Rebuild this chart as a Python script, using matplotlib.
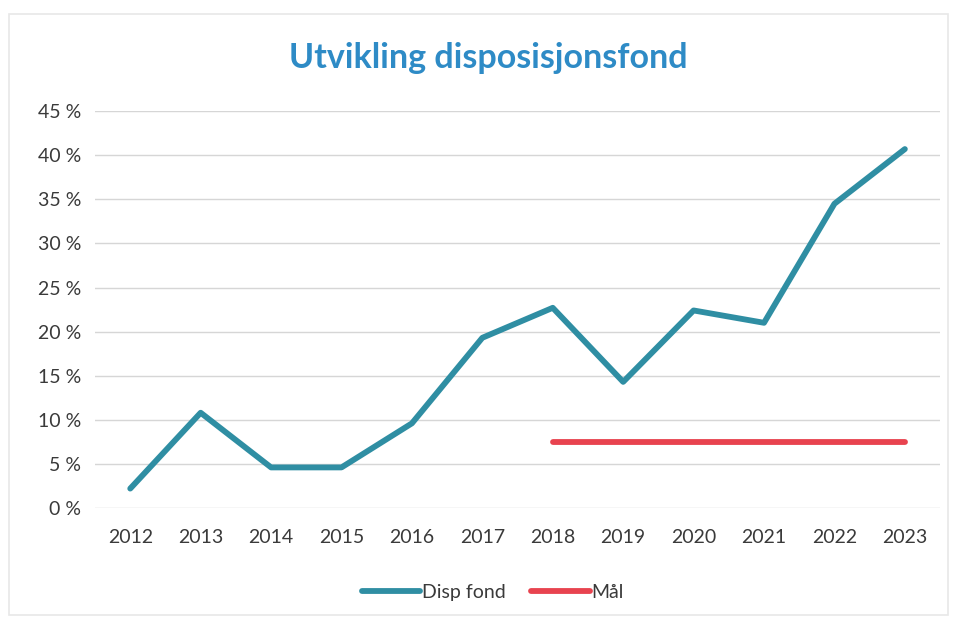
import matplotlib
matplotlib.use('Agg')
import matplotlib.pyplot as plt
from matplotlib.patches import Rectangle

plt.rcParams['font.family'] = ['Lato', 'DejaVu Sans']

years = ['2012', '2013', '2014', '2015', '2016', '2017', '2018', '2019', '2020', '2021', '2022', '2023']
disp_fond = [2.2, 10.8, 4.6, 4.6, 9.6, 19.3, 22.7, 14.3, 22.4, 21.0, 34.5, 40.7]
maal_years = ['2018', '2019', '2020', '2021', '2022', '2023']
maal = [7.5, 7.5, 7.5, 7.5, 7.5, 7.5]
y_ticks = [0, 5, 10, 15, 20, 25, 30, 35, 40, 45]

fig = plt.figure(figsize=(9.57, 6.21), dpi=100)
fig.set_facecolor('w')
fig.patches.append(Rectangle((0.009, 0.01), 0.982, 0.968, transform=fig.transFigure,
                             fill=False, edgecolor='#e8e8e8', linewidth=1.2))

ax = fig.add_axes([0.0993, 0.182, 0.883, 0.639])
x = list(range(len(years)))
xm = [years.index(y) for y in maal_years]

ax.plot(x, disp_fond, color='#2f8ea3', linewidth=4.2, solid_capstyle='round', label='Disp fond', zorder=3)
ax.plot(xm, maal, color='#e8434f', linewidth=4.2, solid_capstyle='round', label='Mål', zorder=3)

ax.set_xlim(-0.5, len(years) - 0.5)
ax.set_ylim(0, 45)
ax.set_yticks(y_ticks)
ax.set_yticklabels(['%d %%' % v for v in y_ticks])
ax.set_xticks(x)
ax.set_xticklabels(years)
ax.tick_params(length=0, labelsize=14, labelcolor='#3a3a3a')
ax.tick_params(axis='x', pad=15)
ax.tick_params(axis='y', pad=10)
ax.grid(axis='y', color='#d6d6d6', linewidth=1)
ax.set_axisbelow(True)
for s in ax.spines.values():
    s.set_visible(False)

fig.text(0.51, 0.907, 'Utvikling disposisjonsfond', ha='center', va='center',
         fontsize=24.5, fontweight='bold', color='#2e8bc6')

leg = fig.legend(loc='center', bbox_to_anchor=(0.515, 0.046), ncol=2, frameon=False,
                 fontsize=14, handlelength=3.0, handletextpad=0.1, columnspacing=1.3)
for t in leg.get_texts():
    t.set_color('#3a3a3a')

fig.savefig('out.png', dpi=100)
